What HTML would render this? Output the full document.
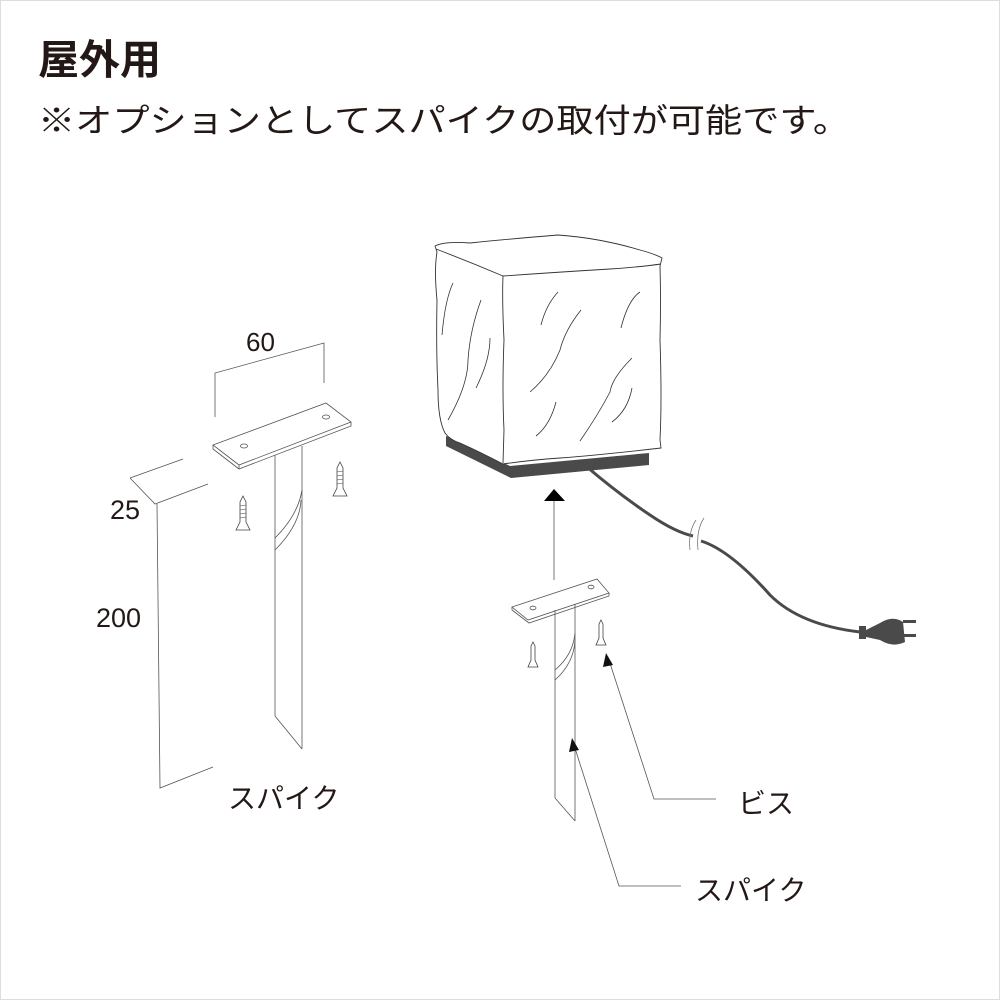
<!DOCTYPE html>
<html><head><meta charset="utf-8"><style>
html,body{margin:0;padding:0;background:#fff;}
svg{display:block;}
text{font-family:"Liberation Sans","Noto Sans CJK JP",sans-serif;fill:#231815;}
</style></head><body>
<svg width="1000" height="1000" viewBox="0 0 1000 1000" xmlns="http://www.w3.org/2000/svg">
<rect x="0.5" y="0.5" width="999" height="999" fill="#fff" stroke="#ddd"/>
<text x="38" y="74" font-size="41" font-weight="bold">屋外用</text>
<text x="38" y="132" font-size="33" textLength="812" lengthAdjust="spacingAndGlyphs">※オプションとしてスパイクの取付が可能です。</text>

<!-- LEFT SPIKE -->
<g fill="none" stroke="#555" stroke-width="0.8">
  <polyline points="215,417 215,373 324,343 324,383"/>
  <line x1="130" y1="478" x2="183" y2="459"/>
  <polyline points="130,478 155,504 208,484"/>
  <polyline points="157,504 160,788 213,767"/>
  <polygon points="213,445 326,403 351,422 239,465" fill="#fff"/>
  <polyline points="213,445 213,449 239,469 351,426 351,422"/>
  <line x1="239" y1="465" x2="239" y2="469"/>
  <ellipse cx="244" cy="446" rx="3.5" ry="2"/>
  <ellipse cx="326" cy="417" rx="3.5" ry="2"/>
  <line x1="275" y1="455" x2="275" y2="716"/>
  <line x1="302" y1="446" x2="302" y2="749"/>
  <line x1="275" y1="716" x2="302" y2="749"/>
  <path d="M275,538 Q298,515 302,490"/>
  <path d="M275,550 Q300,525 301,500"/>
</g>
<g fill="#fff" stroke="#444" stroke-width="0.8">
  <path d="M243,496 L246,502 L246,522 L250,530 L236,530 L240,522 L240,502 Z"/>
  <path d="M340,462 L343,468 L343,488 L347,496 L333,496 L337,488 L337,468 Z"/>
</g>
<g stroke="#444" stroke-width="0.6">
  <line x1="240" y1="506" x2="246" y2="505"/><line x1="240" y1="510" x2="246" y2="509"/><line x1="240" y1="514" x2="246" y2="513"/><line x1="240" y1="518" x2="246" y2="517"/>
  <line x1="337" y1="472" x2="343" y2="471"/><line x1="337" y1="476" x2="343" y2="475"/><line x1="337" y1="480" x2="343" y2="479"/><line x1="337" y1="484" x2="343" y2="483"/>
</g>
<text x="246" y="351" font-size="26">60</text>
<text x="110" y="519" font-size="27">25</text>
<text x="96" y="627" font-size="27">200</text>
<text x="228" y="808" font-size="28">スパイク</text>

<!-- LAMP -->
<polygon points="446,436 510,466 649,453 649,465 511,478 446,446" fill="#4a4a4a"/>
<g fill="none" stroke="#333" stroke-width="0.9">
  <path d="M435,246 Q445,241 470,243 Q520,238 558,235 Q600,238 640,250 Q655,254 662,258 L660,266 Q661,300 660,340 Q662,400 660,440 L661,448 Q600,455 560,458 Q530,460 503,464 Q480,452 460,443 Q450,440 445,433 Q438,420 438,390 Q436,350 437,300 Q434,270 437,252 Z" fill="#fff"/>
  <path d="M436,249 Q470,262 503,276 Q560,272 610,269 Q640,267 661,264"/>
  <path d="M503,276 Q502,300 504,340 Q502,390 504,430 L503,463"/>
  <g stroke-width="0.8">
    <path d="M453,283 Q445,300 442,335"/>
    <path d="M481,300 Q470,330 468,360 Q468,385 448,420"/>
    <path d="M490,338 Q490,360 476,388"/>
    <path d="M558,292 Q546,305 541,325"/>
    <path d="M581,310 Q565,330 560,350 Q550,375 530,392"/>
    <path d="M640,292 Q628,300 621,328"/>
    <path d="M632,358 Q612,378 610,392 Q598,415 580,441"/>
    <path d="M556,402 Q550,425 536,436"/>
    <path d="M632,388 Q628,410 612,422"/>
  </g>
</g>
<path d="M587,467 Q620,495 650,515 Q675,532 693,536 M701,541 Q730,550 770,595 Q800,625 860,632" fill="none" stroke="#4a4a4a" stroke-width="3"/>
<path d="M696,520 Q688,532 690,550 M704,518 Q696,530 698,550" fill="none" stroke="#777" stroke-width="0.8"/>
<rect x="859" y="626" width="7" height="13" fill="#4a4a4a"/>
<path d="M866,630 L880,623 Q893,615 903,622 L905,642 Q893,648 880,640 L866,637 Z" fill="#4a4a4a"/>
<rect x="903" y="620" width="13" height="3" fill="#4a4a4a"/>
<rect x="903" y="634" width="13" height="3" fill="#4a4a4a"/>

<polygon points="554,489 544,501 565,501" fill="#000"/>
<line x1="554" y1="501" x2="554" y2="580" stroke="#555" stroke-width="0.8"/>

<!-- RIGHT SPIKE -->
<g fill="none" stroke="#555" stroke-width="0.8">
  <polygon points="512,607 597,579 609,593 528,620" fill="#fff"/>
  <polyline points="512,607 512,610 529,623 609,596 609,593"/>
  <ellipse cx="533" cy="608" rx="3" ry="1.8"/>
  <ellipse cx="591" cy="587" rx="3" ry="1.8"/>
  <line x1="555" y1="610" x2="555" y2="798"/>
  <line x1="575" y1="604" x2="575" y2="821"/>
  <line x1="555" y1="798" x2="575" y2="821"/>
  <path d="M555,670 Q573,655 575,633"/>
  <path d="M555,680 Q574,663 575,640"/>
  <polyline points="608,657 654,799 716,799"/>
  <polyline points="573,742 619,886 681,886"/>
</g>
<polygon points="606,653 603,667 613,665" fill="#111"/>
<polygon points="572,738 569,752 579,750" fill="#111"/>
<g fill="#fff" stroke="#444" stroke-width="0.8">
  <path d="M533,642 L535,646 L535,660 L538,667 L528,667 L531,660 L531,646 Z"/>
  <path d="M601,620 L603,624 L603,638 L606,645 L596,645 L599,638 L599,624 Z"/>
</g>
<text x="738" y="813" font-size="28">ビス</text>
<text x="695" y="900" font-size="28">スパイク</text>
</svg>
</body></html>
